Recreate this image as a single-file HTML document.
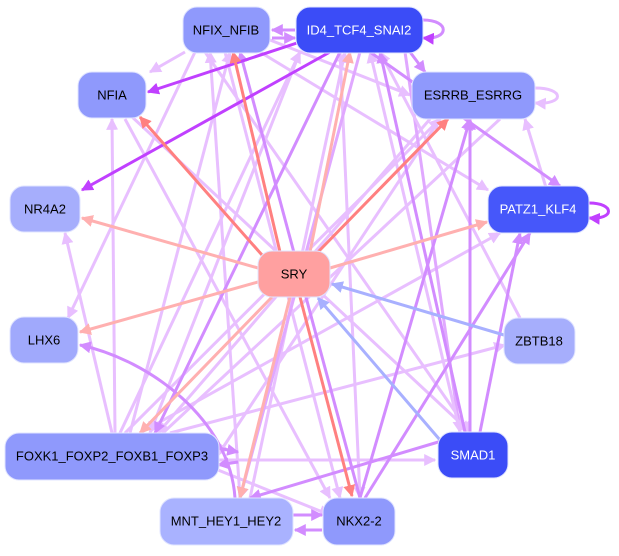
<!DOCTYPE html>
<html><head><style>
body{margin:0;background:#fff;width:619px;height:551px;overflow:hidden}
text{font-family:"Liberation Sans",sans-serif;font-size:13px;text-anchor:middle;dominant-baseline:central}
</style></head><body>
<svg width="619" height="551" viewBox="0 0 619 551">
<defs>
<marker id="a1" viewBox="0 0 10 10" refX="9" refY="5" markerWidth="4" markerHeight="4" orient="auto"><path d="M0,0L10,5L0,10z" fill="#e8bfff"/></marker>
<marker id="a2" viewBox="0 0 10 10" refX="9" refY="5" markerWidth="4" markerHeight="4" orient="auto"><path d="M0,0L10,5L0,10z" fill="#d28cff"/></marker>
<marker id="a3" viewBox="0 0 10 10" refX="9" refY="5" markerWidth="4" markerHeight="4" orient="auto"><path d="M0,0L10,5L0,10z" fill="#c040ff"/></marker>
<marker id="a4" viewBox="0 0 10 10" refX="9" refY="5" markerWidth="4" markerHeight="4" orient="auto"><path d="M0,0L10,5L0,10z" fill="#ff8080"/></marker>
<marker id="a5" viewBox="0 0 10 10" refX="9" refY="5" markerWidth="4" markerHeight="4" orient="auto"><path d="M0,0L10,5L0,10z" fill="#ffb0b0"/></marker>
<marker id="a6" viewBox="0 0 10 10" refX="9" refY="5" markerWidth="4" markerHeight="4" orient="auto"><path d="M0,0L10,5L0,10z" fill="#a8b0ff"/></marker>
</defs>
<g fill="none" stroke-width="3">
<g stroke="#e8bfff" marker-end="url(#a1)">
<path d="M185,52L150,72"/><path d="M270,40L410,95"/><path d="M260,52L488,190"/>
<path d="M115,433L112,119"/><path d="M112,433L65,233"/><path d="M120,433L300,52"/>
<path d="M130,433L230,52"/><path d="M125,433L440,119"/><path d="M140,433L500,233"/>
<path d="M218,460L435,460"/><path d="M218,470L330,515"/><path d="M170,433L505,345"/>
<path d="M240,498L210,52"/><path d="M250,498L345,52"/><path d="M225,52L340,498"/>
<path d="M195,52L68,318"/><path d="M430,119L158,433"/><path d="M500,119L150,445"/>
<path d="M560,233L525,119"/><path d="M205,52L470,433"/><path d="M340,52L360,498"/>
<path d="M125,119L330,498"/><path d="M440,119L218,455"/><path d="M300,52L150,433"/>
<path d="M405,52L460,432" stroke="#e0a8ff"/>
<path d="M520,318L380,52"/><path d="M460,432L370,52"/><path d="M130,115L470,432"/>
</g>
<g stroke="#d28cff" marker-end="url(#a2)">
<path d="M295,30L272,30"/><path d="M272,38L295,38"/><path d="M340,52L155,433" />
<path d="M470,432L470,119"/><path d="M465,432L380,52"/><path d="M480,432L520,233"/>
<path d="M360,498L470,119"/><path d="M365,498L530,233"/><path d="M360,498L240,52"/>
<path d="M445,440L250,498"/><path d="M293,515L322,515"/><path d="M322,530L295,530"/>
<path d="M218,448L238,452"/><path d="M238,462L218,465"/>
<path d="M235,498C230,420 150,360 80,345"/><path d="M370,52L560,186"/>
<path d="M410,52L425,72"/><path d="M360,52L240,498" stroke="#e0a8ff"/>
</g>
<g stroke="#c040ff" marker-end="url(#a3)">
<path d="M300,42L148,92"/><path d="M330,52L82,190"/>
<path d="M589,203C615,203 615,220 589,218"/>
<path d="M423,20C450,20 450,40 423,38" stroke="#d28cff"/>
</g>
<path d="M535,88C565,88 565,105 535,103" stroke="#e8bfff" marker-end="url(#a1)"/>
<g stroke="#ff8080" marker-end="url(#a4)">
<path d="M280,252L233,52"/><path d="M262,255L140,117"/><path d="M300,297L352,496"/>
<path d="M318,252L448,119"/>
</g>
<g stroke="#ffb0b0" marker-end="url(#a5)">
<path d="M310,252L350,52"/><path d="M258,268L82,218"/><path d="M330,268L487,222"/>
<path d="M258,282L80,332"/><path d="M272,297L140,433"/><path d="M290,297L240,498"/>
</g>
<g stroke="#a8b0ff" marker-end="url(#a6)">
<path d="M504,335L332,284"/><path d="M440,440L318,298"/>
</g>
</g>
<g stroke="#e0e4ff" stroke-width="1">
<rect x="183" y="7" width="87" height="46" rx="14" fill="#8f99fc"/>
<rect x="296" y="7" width="127" height="46" rx="14" fill="#3b4cf7"/>
<rect x="78" y="72" width="68" height="46" rx="14" fill="#8f99fc"/>
<rect x="412" y="72" width="123" height="47" rx="14" fill="#8f99fc"/>
<rect x="10" y="186" width="70" height="46" rx="14" fill="#a6aefc"/>
<rect x="488" y="186" width="101" height="47" rx="14" fill="#4657fa"/>
<rect x="258" y="251" width="72" height="46" rx="14" fill="#ffa0a0"/>
<rect x="10" y="317" width="68" height="46" rx="14" fill="#a0a9fc"/>
<rect x="504" y="318" width="71" height="46" rx="14" fill="#a6aefc"/>
<rect x="5" y="433" width="214" height="47" rx="14" fill="#8f99fc"/>
<rect x="438" y="432" width="70" height="46" rx="14" fill="#3b4cf7"/>
<rect x="160" y="498" width="133" height="47" rx="14" fill="#a9b2ff"/>
<rect x="323" y="498" width="72" height="47" rx="14" fill="#8f99fc"/>
</g>
<text x="226" y="30">NFIX_NFIB</text>
<text x="359" y="30" fill="#fff">ID4_TCF4_SNAI2</text>
<text x="112" y="95">NFIA</text>
<text x="473" y="95">ESRRB_ESRRG</text>
<text x="45" y="209">NR4A2</text>
<text x="538" y="209" fill="#fff">PATZ1_KLF4</text>
<text x="294" y="274">SRY</text>
<text x="44" y="340">LHX6</text>
<text x="539" y="341">ZBTB18</text>
<text x="112" y="456">FOXK1_FOXP2_FOXB1_FOXP3</text>
<text x="473" y="455" fill="#fff">SMAD1</text>
<text x="226" y="521">MNT_HEY1_HEY2</text>
<text x="359" y="521">NKX2-2</text>
</svg>
</body></html>
